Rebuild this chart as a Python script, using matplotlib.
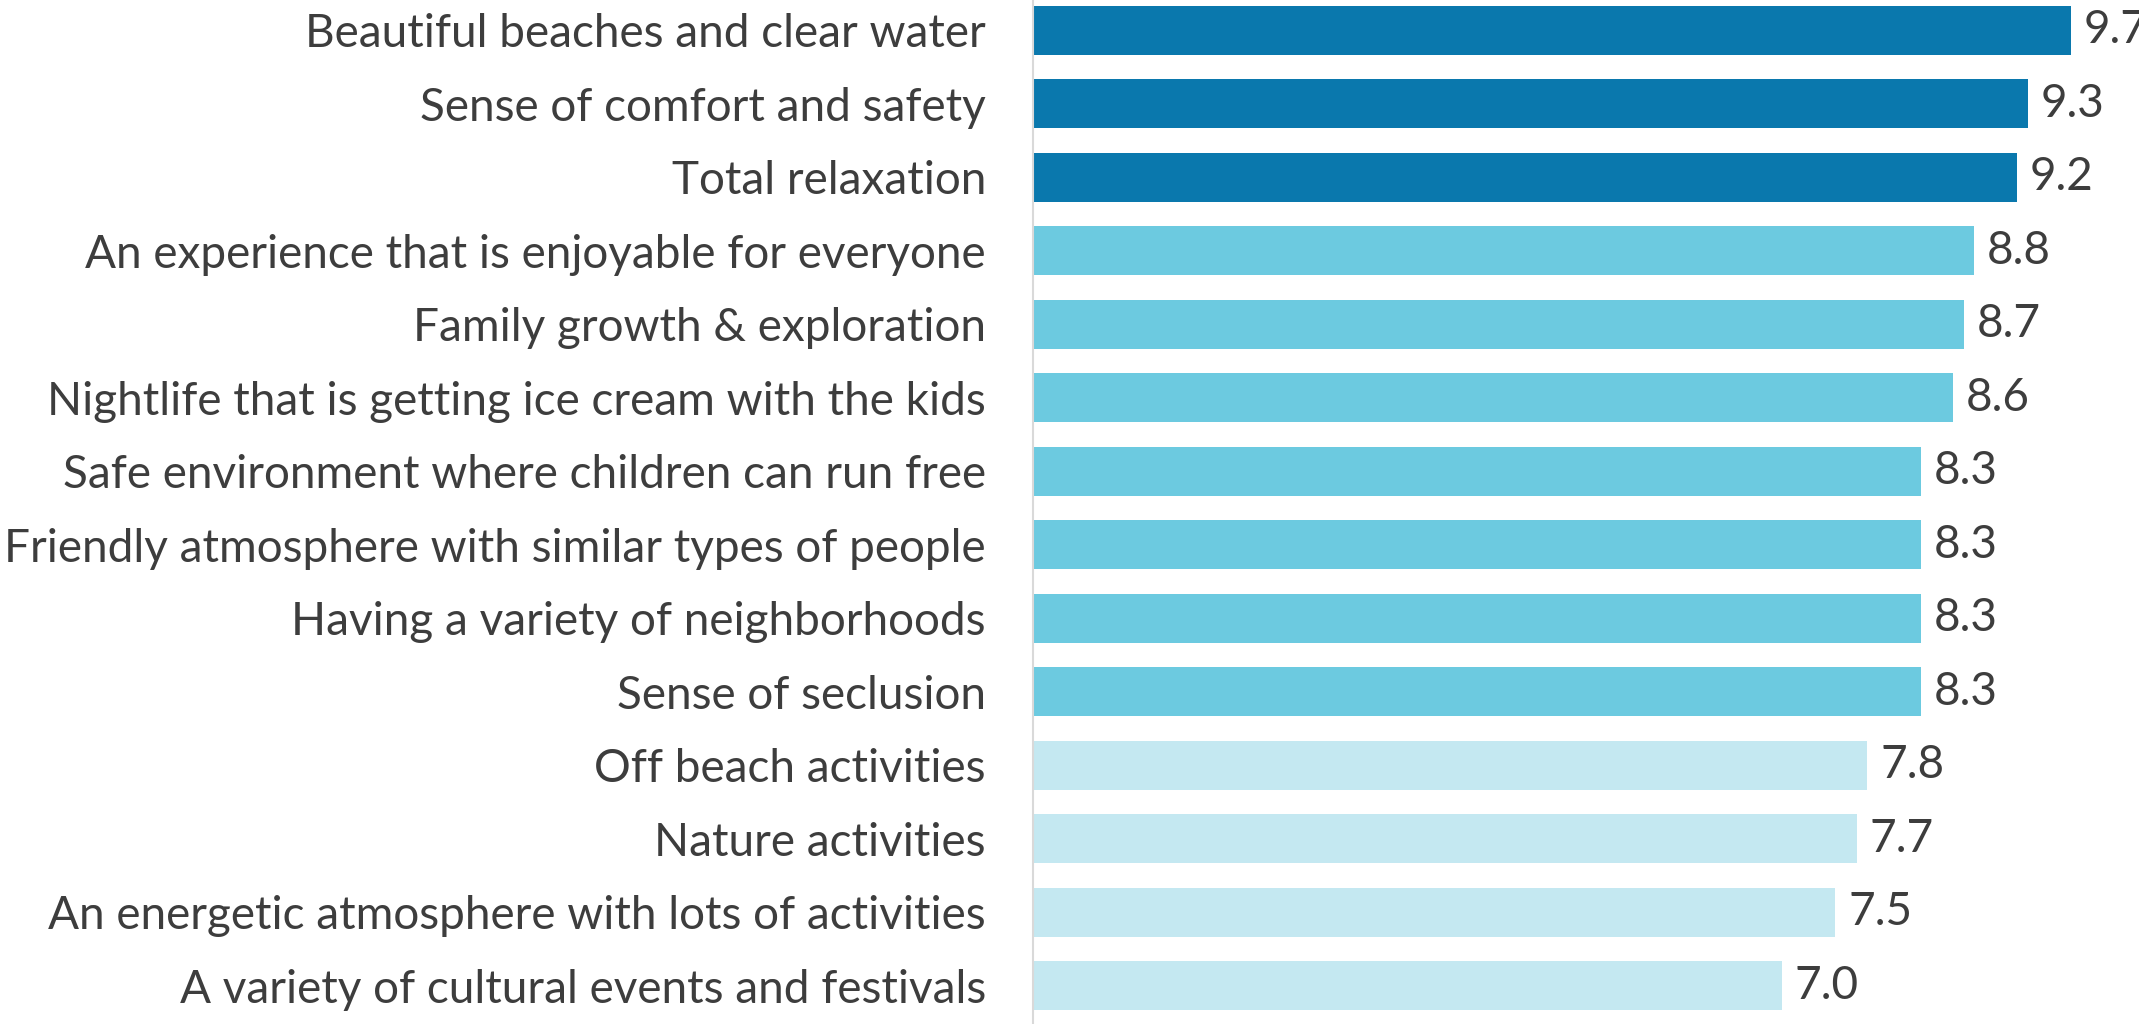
import matplotlib.pyplot as plt

categories = [
    "Beautiful beaches and clear water",
    "Sense of comfort and safety",
    "Total relaxation",
    "An experience that is enjoyable for everyone",
    "Family growth & exploration",
    "Nightlife that is getting ice cream with the kids",
    "Safe environment where children can run free",
    "Friendly atmosphere with similar types of people",
    "Having a variety of neighborhoods",
    "Sense of seclusion",
    "Off beach activities",
    "Nature activities",
    "An energetic atmosphere with lots of activities",
    "A variety of cultural events and festivals",
]
scores = [9.7, 9.3, 9.2, 8.8, 8.7, 8.6, 8.3, 8.3, 8.3, 8.3, 7.8, 7.7, 7.5, 7.0]
tiers = [0, 0, 0, 1, 1, 1, 1, 1, 1, 1, 2, 2, 2, 2]

tier_colors = ["#0a78ad", "#6ccae0", "#c4e8f1"]
text_color = "#3d3d3d"

plt.rcParams['font.family'] = ['Lato', 'DejaVu Sans']

fig = plt.figure(figsize=(21.39, 10.24), dpi=100)
ax = fig.add_axes([0.483, 0.0, 0.5, 1.0])

y = list(range(len(categories)))
colors = [tier_colors[t] for t in tiers]
ax.barh(y, scores, height=0.67, color=colors, edgecolor="none")

for yi, v in zip(y, scores):
    ax.text(v + 0.12, yi, f"{v:.1f}", va="center", ha="left",
            fontsize=33, color=text_color)

ax.set_xlim(0, 10)
ax.set_ylim(13.52, -0.41)
ax.set_yticks(y)
ax.set_yticklabels(categories, fontsize=33, color=text_color)
ax.tick_params(axis="y", length=0, pad=34)
ax.set_xticks([])

for side in ["top", "right", "bottom"]:
    ax.spines[side].set_visible(False)
ax.spines["left"].set_color("#d9d9d9")
ax.spines["left"].set_linewidth(1.5)

fig.savefig("out.png", dpi=100)
